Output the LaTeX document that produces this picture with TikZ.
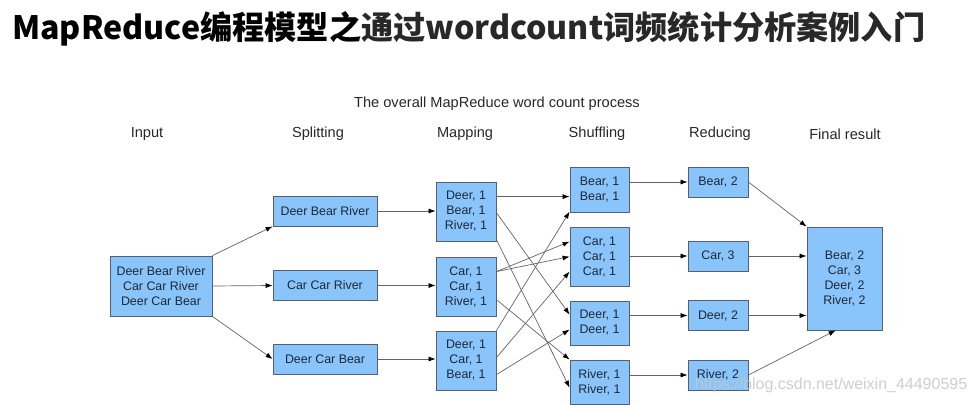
\documentclass[tikz,border=0pt]{standalone}
\usepackage{fontspec}
\usepackage{graphicx}
\setmainfont{Liberation Sans}
\newfontfamily\cjk{Noto Sans CJK SC}
\usetikzlibrary{arrows.meta,calc}
\definecolor{boxblue}{RGB}{137,196,250}
\definecolor{boxline}{RGB}{85,95,110}
\definecolor{boxtext}{RGB}{30,40,55}
\definecolor{lineg}{RGB}{100,100,100}
\definecolor{titlegray}{RGB}{40,40,40}
\tikzset{
  box/.style={draw=boxline, fill=boxblue, line width=0.8pt, inner sep=0pt,
    align=center, text=boxtext, font=\fontsize{12.4}{15}\selectfont},
  hdr/.style={text=titlegray, font=\fontsize{14.6}{17}\selectfont, inner sep=0pt},
  conn/.style={draw=lineg, line width=0.7pt, -{Latex[length=7pt,width=5pt,color=black]}}
}
\begin{document}
\begin{tikzpicture}[x=1pt,y=-1pt]
\useasboundingbox (0,0) rectangle (976,404);
\fill[white] (0,0) rectangle (976,404);

% big title
\node[anchor=west, inner sep=0pt] (bigtitle) at (12,29)
  {\resizebox{913pt}{!}{\cjk\bfseries MapReduce编程模型之{\color{titlegray}通过wordcount词频统计分析案例入门}}};

% headers
\node[hdr] (ttl) at (497,104) {The overall MapReduce word count process};
\node[hdr] (hin) at (147,134) {Input};
\node[hdr] (hsp) at (318,134) {Splitting};
\node[hdr] (hmp) at (465,134) {Mapping};
\node[hdr] (hsh) at (597,134) {Shuffling};
\node[hdr] (hrd) at (720,134) {Reducing};
\node[hdr] (hfn) at (845,134) {Final result};

% input
\node[box, minimum width=102pt, minimum height=60pt] (in) at (161,286)
  {Deer Bear River\\Car Car River\\Deer Car Bear};

% splitting
\node[box, minimum width=104pt, minimum height=30pt] (s1) at (325,211) {Deer Bear River};
\node[box, minimum width=104pt, minimum height=30pt] (s2) at (325,285.5) {Car Car River};
\node[box, minimum width=104pt, minimum height=30pt] (s3) at (325,359) {Deer Car Bear};

% mapping
\node[box, minimum width=60pt, minimum height=59pt] (m1) at (466,211.5) {Deer, 1\\Bear, 1\\River, 1};
\node[box, minimum width=60pt, minimum height=59pt] (m2) at (466,286.5) {Car, 1\\Car, 1\\River, 1};
\node[box, minimum width=60pt, minimum height=59pt] (m3) at (466,360.5) {Deer, 1\\Car, 1\\Bear, 1};

% shuffling
\node[box, minimum width=59pt, minimum height=45pt] (h1) at (599.5,189.5) {Bear, 1\\Bear, 1};
\node[box, minimum width=59pt, minimum height=59pt] (h2) at (599.5,256.5) {Car, 1\\Car, 1\\Car, 1};
\node[box, minimum width=59pt, minimum height=44pt] (h3) at (599.5,323) {Deer, 1\\Deer, 1};
\node[box, minimum width=59pt, minimum height=44pt] (h4) at (599.5,382) {River, 1\\River, 1};

% reducing
\node[box, minimum width=60pt, minimum height=30pt] (r1) at (718,182) {Bear, 2};
\node[box, minimum width=60pt, minimum height=30pt] (r2) at (718,256) {Car, 3};
\node[box, minimum width=60pt, minimum height=30pt] (r3) at (718,315.5) {Deer, 2};
\node[box, minimum width=60pt, minimum height=30pt] (r4) at (718,375) {River, 2};

% final
\node[box, minimum width=75pt, minimum height=103pt] (fin) at (844.5,278.5)
  {Bear, 2\\Car, 3\\Deer, 2\\River, 2};

% input -> splitting
\draw[conn] (in.north east) -- (s1.south west);
\draw[conn] (in.east) -- (s2.west);
\draw[conn] (in.south east) -- (s3.west);

% splitting -> mapping
\draw[conn] (s1.east) -- (s1.east -| m1.west);
\draw[conn] (s2.east) -- (s2.east -| m2.west);
\draw[conn] (s3.east) -- (s3.east -| m3.west);

% mapping -> shuffling
\draw[conn] ($(m1.north east)+(0,15)$) -- ($(h1.north west)+(0,30)$);
\draw[conn] ($(m1.north east)+(0,31)$) -- ($(h3.north west)+(0,14)$);
\draw[conn] ($(m1.north east)+(0,58)$) -- ($(h4.north west)+(0,28)$);
\draw[conn] ($(m2.north east)+(0,15)$) -- ($(h2.north west)+(0,15)$);
\draw[conn] ($(m2.north east)+(0,15)$) -- ($(h2.north west)+(0,30)$);
\draw[conn] ($(m2.north east)+(0,43)$) -- ($(h4.north west)+(0,0)$);
\draw[conn] ($(m3.north east)+(0,0)$) -- ($(h1.north west)+(0,45)$);
\draw[conn] ($(m3.north east)+(0,27)$) -- ($(h2.north west)+(0,45)$);
\draw[conn] ($(m3.north east)+(0,44)$) -- ($(h3.north west)+(0,29)$);

% shuffling -> reducing
\draw[conn] (r1.west -| h1.east) -- (r1.west);
\draw[conn] (r2.west -| h2.east) -- (r2.west);
\draw[conn] (r3.west -| h3.east) -- (r3.west);
\draw[conn] (r4.west -| h4.east) -- (r4.west);

% reducing -> final
\draw[conn] (r1.east) -- (fin.north west);
\draw[conn] (r2.east) -- (r2.east -| fin.west);
\draw[conn] (r3.east) -- (r3.east -| fin.west);
\draw[conn] (r4.east) -- ($(fin.south west)+(29,0)$);

% watermark
\node[anchor=west, inner sep=0pt, text=gray!45, opacity=0.85] (wm) at (695,385)
  {\resizebox{272pt}{!}{\fontsize{14.7}{17}\selectfont https://blog.csdn.net/weixin\_44490595}};
\end{tikzpicture}
\end{document}
